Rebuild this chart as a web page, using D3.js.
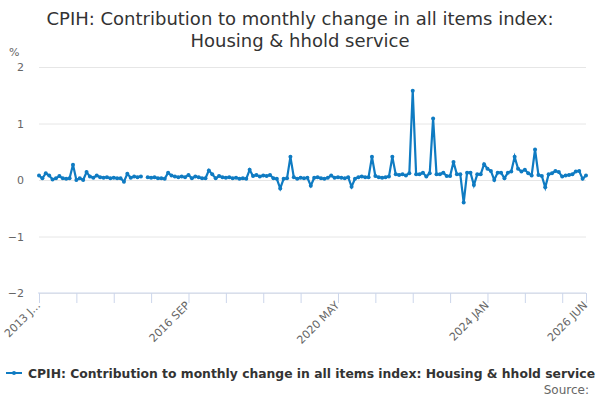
<!DOCTYPE html>
<html>
<head>
<meta charset="UTF-8">
<title>CPIH housing</title>
<script src="https://d3js.org/d3.v7.min.js"></script>
<style>
    body { margin: 0; background: #fff; font-family: "DejaVu Sans", Arial, sans-serif; }
    svg text { fill: #666; }
    .title { fill: #333; font-size: 18px; }
    .legend-text { fill: #333; font-weight: bold; font-size: 12px; }
</style>
</head>
<body>
<svg id="chart" width="600" height="400"></svg>
<script>
// monthly series, Jan 2013 .. Jun 2026 (null = missing month)
const values = [
    0.08, 0.03, 0.12, 0.08, 0.01, 0.03, 0.07, 0.03, 0.02, 0.03,
    0.27, 0.0, 0.03, 0.0, 0.14, 0.06, 0.04, 0.08, 0.05, 0.04,
    0.05, 0.03, 0.04, 0.03, 0.03, -0.03, 0.11, 0.04, 0.06, 0.05,
    0.06, null, 0.05, 0.04, 0.05, 0.03, 0.03, 0.02, 0.13, 0.08,
    0.06, 0.05, 0.06, 0.05, 0.09, 0.03, 0.06, 0.05, 0.03, 0.03,
    0.17, 0.1, 0.03, 0.07, 0.05, 0.04, 0.05, 0.03, 0.04, 0.02,
    0.03, 0.02, 0.18, 0.07, 0.09, 0.06, 0.08, 0.07, 0.09, 0.03,
    0.02, -0.15, 0.02, 0.03, 0.41, 0.05, 0.02, 0.04, 0.03, 0.04,
    -0.1, 0.04, 0.05, 0.03, 0.02, 0.04, 0.08, 0.04, 0.05, 0.04,
    0.03, 0.05, -0.12, 0.02, 0.05, 0.06, 0.05, 0.05, 0.41, 0.07,
    0.05, 0.04, 0.05, 0.06, 0.41, 0.1, 0.09, 0.1, 0.08, 0.12,
    1.58, 0.1, 0.1, 0.13, 0.06, 0.12, 1.09, 0.1, 0.1, 0.13,
    0.07, 0.07, 0.32, 0.1, 0.1, -0.4, 0.13, 0.13, -0.09, 0.1,
    0.1, 0.28, 0.2, 0.16, 0.0, 0.13, 0.13, 0.03, 0.13, 0.15,
    0.41, 0.2, 0.15, 0.18, 0.12, 0.08, 0.54, 0.09, 0.07, -0.13,
    0.1, 0.12, 0.16, 0.14, 0.06, 0.08, 0.09, 0.1, 0.15, 0.16,
    0.02, 0.08
];

const monthNames = ["JAN","FEB","MAR","APR","MAY","JUN","JUL","AUG","SEP","OCT","NOV","DEC"];
const categories = values.map((v, i) => (2013 + Math.floor(i / 12)) + " " + monthNames[i % 12]);

const yTicks = [-2, -1, 0, 1, 2];
const tickEvery = 11;
const labelEvery = 44;

const seriesName = "CPIH: Contribution to monthly change in all items index: Housing & hhold service";
const titleLines = ["CPIH: Contribution to monthly change in all items index:", "Housing & hhold service"];

const svg = d3.select("#chart");
const margin = {left: 39, right: 14, top: 67, bottom: 107};
const width = 600, height = 400;
const blue = "#0f7bc2";

const x = d3.scalePoint()
    .domain(categories)
    .range([margin.left, width - margin.right]);

const y = d3.scaleLinear()
    .domain([-2, 2])
    .range([height - margin.bottom, margin.top]);

// title
svg.selectAll(".title")
    .data(titleLines)
    .enter()
    .append("text")
    .attr("class", "title")
    .attr("x", 300)
    .attr("y", (d, i) => 25 + i * 22)
    .attr("text-anchor", "middle")
    .text(d => d);

svg.append("text")
    .attr("x", 9)
    .attr("y", 56)
    .style("font-size", "11px")
    .text("%");

// grid + y labels
const yAxis = svg.append("g")
    .attr("transform", "translate(" + margin.left + ",0)")
    .call(d3.axisLeft(y).tickValues(yTicks).tickSize(-(width - margin.left - margin.right)).tickPadding(15).tickFormat(d3.format("d")));
yAxis.select(".domain").remove();
yAxis.selectAll(".tick line").attr("stroke", "#e6e6e6");
yAxis.selectAll(".tick text").style("font-size", "11px").style("font-family", "DejaVu Sans").attr("fill", "#666");

// x axis
const tickCats = categories.filter((c, i) => i % tickEvery === 0);
tickCats.push(categories[categories.length - 1]);
const xAxis = svg.append("g")
    .attr("transform", "translate(0," + y(-2) + ")")
    .call(d3.axisBottom(x).tickValues(tickCats).tickSize(10).tickFormat(""));
xAxis.select(".domain").attr("stroke", "#ccd6eb").attr("d", "M" + (margin.left - 1) + ",0H" + (width - margin.right));
xAxis.selectAll(".tick line").attr("stroke", "#ccd6eb");

const labelCats = categories.filter((c, i) => i % labelEvery === 0);
labelCats.push(categories[categories.length - 1]);
svg.selectAll(".xlabel")
    .data(labelCats)
    .enter()
    .append("text")
    .attr("class", "xlabel")
    .attr("text-anchor", "end")
    .style("font-size", "11px")
    .attr("transform", d => "translate(" + (x(d) + 2) + "," + (y(-2) + 13) + ") rotate(-45)")
    .text(d => d === categories[0] ? d.slice(0, 6) + "..." : d);

// line
const line = d3.line()
    .defined(d => d !== null)
    .x((d, i) => x(categories[i]))
    .y(d => y(d));

svg.append("path")
    .datum(values)
    .attr("fill", "none")
    .attr("stroke", blue)
    .attr("stroke-width", 2.2)
    .attr("d", line);

svg.selectAll(".dot")
    .data(values.map((v, i) => ({v: v, c: categories[i]})).filter(d => d.v !== null))
    .enter()
    .append("circle")
    .attr("class", "dot")
    .attr("cx", d => x(d.c))
    .attr("cy", d => y(d.v))
    .attr("r", 2)
    .attr("fill", blue);

// legend
svg.append("line")
    .attr("x1", 6).attr("x2", 22)
    .attr("y1", 373).attr("y2", 373)
    .attr("stroke", blue).attr("stroke-width", 2);
svg.append("circle")
    .attr("cx", 14).attr("cy", 373).attr("r", 2)
    .attr("fill", blue);
svg.append("text")
    .attr("class", "legend-text")
    .attr("x", 28)
    .attr("y", 378)
    .attr("textLength", 567)
    .attr("lengthAdjust", "spacingAndGlyphs")
    .text(seriesName);

svg.append("text")
    .attr("x", 589)
    .attr("y", 394)
    .attr("text-anchor", "end")
    .style("font-size", "12px")
    .text("Source:");
</script>
</body>
</html>
